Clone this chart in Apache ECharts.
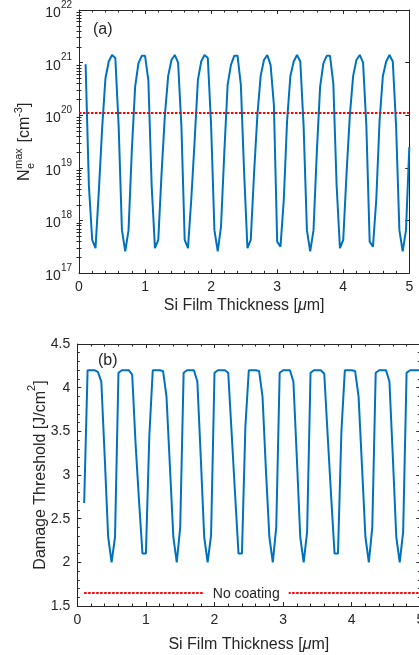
<!DOCTYPE html>
<html>
<head>
<meta charset="utf-8">
<script src="https://cdn.jsdelivr.net/npm/echarts@6/dist/echarts.min.js"></script>
<style>
  html, body { margin: 0; padding: 0; background: #fff; }
  #chart { width: 419px; height: 655px; }
</style>
</head>
<body>
<div id="chart"></div>
<script>
// Si film thickness samples [µm]
const thickness = [
  0.10, 0.15, 0.20, 0.25, 0.30, 0.35, 0.40, 0.45, 0.50, 0.55,
  0.60, 0.65, 0.70, 0.75, 0.80, 0.85, 0.90, 0.95, 1.00, 1.05,
  1.10, 1.15, 1.20, 1.25, 1.30, 1.35, 1.40, 1.45, 1.50, 1.55,
  1.60, 1.65, 1.70, 1.75, 1.80, 1.85, 1.90, 1.95, 2.00, 2.05,
  2.10, 2.15, 2.20, 2.25, 2.30, 2.35, 2.40, 2.45, 2.50, 2.55,
  2.60, 2.65, 2.70, 2.75, 2.80, 2.85, 2.90, 2.95, 3.00, 3.05,
  3.10, 3.15, 3.20, 3.25, 3.30, 3.35, 3.40, 3.45, 3.50, 3.55,
  3.60, 3.65, 3.70, 3.75, 3.80, 3.85, 3.90, 3.95, 4.00, 4.05,
  4.10, 4.15, 4.20, 4.25, 4.30, 4.35, 4.40, 4.45, 4.50, 4.55,
  4.60, 4.65, 4.70, 4.75, 4.80, 4.85, 4.90, 4.95, 5.00
];

// (a) peak electron density N_e^max [cm^-3]
const neMax = [
  9.3e20, 4.5e18, 4.3e17, 3.0e17, 3.6e18, 5.6e19, 5.0e20, 1.05e21, 1.4e21, 1.23e21,
  6.3e19, 6.6e17, 2.6e17, 6.6e17, 2.2e19, 3.5e20, 9.8e20, 1.35e21, 1.35e21, 4.6e20,
  4.6e18, 3.0e17, 4.3e17, 7.9e18, 1.0e20, 5.6e20, 1.12e21, 1.4e21, 1.0e21, 6.3e19,
  4.3e17, 3.0e17, 2.6e18, 3.2e19, 4.7e20, 1.05e21, 1.4e21, 1.23e21, 6.3e19, 6.6e17,
  2.6e17, 7.8e17, 2.0e19, 3.8e20, 9.1e20, 1.35e21, 1.35e21, 3.8e20, 7.9e18, 3.0e17,
  4.3e17, 7.9e18, 1.0e20, 5.6e20, 1.12e21, 1.4e21, 9.1e20, 1.6e20, 4.0e17, 3.2e17,
  2.5e18, 7.9e19, 5.6e20, 1.05e21, 1.4e21, 1.05e21, 6.3e19, 6.6e17, 2.6e17, 6.6e17,
  2.0e19, 3.5e20, 9.8e20, 1.35e21, 1.35e21, 4.0e20, 4.6e18, 3.0e17, 4.3e17, 7.9e18,
  1.0e20, 5.6e20, 1.12e21, 1.4e21, 1.0e21, 6.3e19, 4.0e17, 3.2e17, 2.5e18, 7.9e19,
  5.6e20, 1.05e21, 1.4e21, 1.05e21, 6.3e19, 6.6e17, 2.6e17, 6.6e17, 2.5e19
];

// (b) damage threshold [J/cm^2]
const threshold = [
  2.68, 4.20, 4.20, 4.20, 4.18, 4.07, 3.20, 2.29, 2.00, 2.29,
  4.17, 4.20, 4.20, 4.20, 4.15, 3.35, 2.70, 2.10, 2.10, 3.45,
  4.20, 4.20, 4.20, 4.19, 3.90, 3.10, 2.29, 2.00, 2.40, 4.17,
  4.20, 4.20, 4.20, 4.07, 3.20, 2.29, 2.00, 2.31, 4.17, 4.20,
  4.20, 4.20, 4.17, 3.48, 2.78, 2.10, 2.10, 3.55, 4.20, 4.20,
  4.20, 4.19, 3.90, 3.05, 2.29, 2.00, 2.40, 4.17, 4.20, 4.20,
  4.20, 4.07, 3.20, 2.29, 2.00, 2.35, 4.17, 4.20, 4.20, 4.20,
  4.16, 3.45, 2.76, 2.10, 2.10, 3.50, 4.20, 4.20, 4.20, 4.19,
  3.90, 3.10, 2.29, 2.00, 2.40, 4.17, 4.20, 4.20, 4.20, 4.07,
  3.20, 2.29, 2.00, 2.35, 4.17, 4.20, 4.20, 4.20, 4.20
];

// reference levels
const neReference = 1.1e20;      // dotted level in (a)
const uncoatedThreshold = 1.65;  // "No coating" level in (b)
const uncoatedLabel = 'No coating';

const FONT = '"Liberation Sans", Arial, Helvetica, sans-serif';
const INK = '#262626';
const BLUE = '#0072BD';
const RED = '#FF0000';

// minor tick positions of the log axis (2..9 within each decade)
const logMinor = [];
for (let e = 17; e < 22; e++) {
  for (let m = 2; m <= 9; m++) logMinor.push(m * Math.pow(10, e));
}

const powLabel = v => '{b|10}{s|' + Math.round(Math.log10(v)) + '}';

const tickStyle = { color: INK, width: 1 };
const lineAxis = { show: true, onZero: false, lineStyle: { color: INK, width: 1 } };

const xTitle = {
  name: '{t|Si Film Thickness [}{i|\u03bc}{t|m]}',
  nameLocation: 'middle',
  nameTextStyle: {
    rich: {
      t: { fontSize: 16, fontFamily: FONT, color: INK },
      i: { fontSize: 16, fontFamily: FONT, color: INK, fontStyle: 'italic' }
    }
  }
};

function xAxes(grid, gap) {
  const base = {
    gridIndex: grid, type: 'value', min: 0, max: 5, interval: 1,
    axisLine: lineAxis,
    axisTick: { show: true, inside: true, length: 4, lineStyle: tickStyle },
    minorTick: { show: true, splitNumber: 5, length: 2.5, lineStyle: tickStyle },
    splitLine: { show: false }
  };
  return [
    Object.assign({}, base, xTitle, {
      position: 'bottom', nameGap: gap,
      axisLabel: { color: INK, fontSize: 14, fontFamily: FONT, margin: 7 }
    }),
    Object.assign({}, base, { position: 'top', axisLabel: { show: false } })
  ];
}

function logAxis(position, minor, labels) {
  return {
    gridIndex: 0, type: 'log', logBase: 10, min: 1e17, max: 1e22, splitNumber: 5,
    position: position,
    axisLine: minor ? { show: false } : lineAxis,
    axisTick: minor
      ? { show: true, inside: true, length: 2.5, lineStyle: tickStyle, customValues: logMinor }
      : { show: true, inside: true, length: 4, lineStyle: tickStyle },
    splitLine: { show: false },
    axisLabel: labels ? {
      show: true, margin: 7, formatter: powLabel,
      rich: {
        b: { fontSize: 14, fontFamily: FONT, color: INK, lineHeight: 20, verticalAlign: 'bottom' },
        s: { fontSize: 10, fontFamily: FONT, color: INK, lineHeight: 10, verticalAlign: 'top' }
      }
    } : { show: false }
  };
}

function linAxis(position, labels) {
  return {
    gridIndex: 1, type: 'value', min: 1.5, max: 4.5, interval: 0.5,
    position: position,
    axisLine: lineAxis,
    axisTick: { show: true, inside: true, length: 4, lineStyle: tickStyle },
    minorTick: { show: true, splitNumber: 5, length: 2.5, lineStyle: tickStyle },
    splitLine: { show: false },
    axisLabel: labels ? { show: true, color: INK, fontSize: 14, fontFamily: FONT, margin: 7 } : { show: false }
  };
}

const thresholdAxis = Object.assign(linAxis('left', true), {
  name: '{t|Damage Threshold [J/cm}{s|2}{t|]}',
  nameLocation: 'middle',
  nameGap: 29,
  nameMoveOverlap: false,
  nameTextStyle: {
    rich: {
      t: { fontSize: 16, fontFamily: FONT, color: INK, lineHeight: 22, verticalAlign: 'bottom' },
      s: { fontSize: 11, fontFamily: FONT, color: INK, lineHeight: 11, verticalAlign: 'top' }
    }
  }
});

const txt = (text, x, y, size) => ({
  type: 'text', x: x, y: y,
  style: {
    text: text, fontSize: size, fontFamily: FONT, fill: INK,
    align: 'left', verticalAlign: 'middle', textAlign: 'left', textVerticalAlign: 'middle'
  }
});

const option = {
  animation: false,
  backgroundColor: '#fff',
  grid: [
    { left: 79, top: 10, width: 330.3, height: 263.3, outerBoundsMode: 'none' },
    { left: 77.3, top: 344, width: 343, height: 262, outerBoundsMode: 'none' }
  ],
  xAxis: [].concat(xAxes(0, 24), xAxes(1, 31)),
  yAxis: [
    logAxis('left', false, true),
    logAxis('left', true, false),
    logAxis('right', false, false),
    logAxis('right', true, false),
    thresholdAxis,
    linAxis('right', false)
  ],
  series: [
    {
      type: 'line', xAxisIndex: 0, yAxisIndex: 0,
      data: thickness.map((x, i) => [x, neMax[i]]),
      symbol: 'none', showSymbol: false,
      lineStyle: { color: BLUE, width: 2 },
      markLine: {
        silent: true, symbol: ['none', 'none'],
        lineStyle: { color: RED, type: [2.5, 1.5], width: 2 },
        label: { show: false },
        data: [[{ coord: [0, neReference] }, { coord: [5, neReference] }]]
      }
    },
    {
      type: 'line', xAxisIndex: 2, yAxisIndex: 4,
      data: thickness.map((x, i) => [x, threshold[i]]),
      symbol: 'none', showSymbol: false,
      lineStyle: { color: BLUE, width: 2 },
      markLine: {
        silent: true, symbol: ['none', 'none'],
        lineStyle: { color: RED, type: [2.5, 1.5], width: 2 },
        label: {
          show: true, position: 'middle', formatter: uncoatedLabel,
          color: INK, fontSize: 14, fontFamily: FONT,
          backgroundColor: '#fff', padding: [1, 9], distance: -9, offset: [-6, 0]
        },
        data: [[{ coord: [thickness[0], uncoatedThreshold] }, { coord: [5, uncoatedThreshold] }]]
      }
    }
  ],
  graphic: [
    txt('(a)', 93, 30, 16),
    txt('(b)', 98, 361, 16),
    {
      // stacked sub/superscript y-axis title of panel (a), reading bottom to top
      type: 'group', x: 25, y: 181, rotation: Math.PI / 2,
      children: [
        txt('N', 0, 0, 16),
        txt('e', 12, 6, 11),
        txt('max', 12, -6, 11),
        txt(' [cm', 34, 0, 16),
        txt('-3', 64, -6, 11),
        txt(']', 74, 0, 16)
      ]
    }
  ]
};

const chart = echarts.init(document.getElementById('chart'), null, { renderer: 'canvas' });
chart.setOption(option);
</script>
</body>
</html>
